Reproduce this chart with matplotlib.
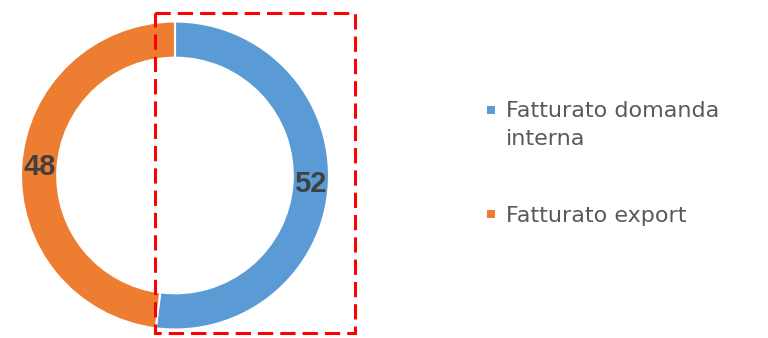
import matplotlib
matplotlib.use("Agg")
import matplotlib.pyplot as plt
from matplotlib.patches import Rectangle
import numpy as np

categories = ["Fatturato domanda\ninterna", "Fatturato export"]
values = [52, 48]
colors = ["#5B9BD5", "#ED7D31"]

W, H = 768, 338
fig = plt.figure(figsize=(W / 100, H / 100), dpi=100)

# donut axes: outer circle spans x 21..329, y 21..329 (pixels)
cx, cy, R = 175, 175.5, 154
pie_ax = fig.add_axes([(cx - R) / W, 1 - (cy + R) / H, 2 * R / W, 2 * R / H])
ring = 0.235
wedges, _ = pie_ax.pie(values, colors=colors, startangle=90, counterclock=False,
                       radius=1.0,
                       wedgeprops=dict(width=ring, edgecolor="white", linewidth=1.5))
pie_ax.set_xlim(-1, 1)
pie_ax.set_ylim(-1, 1)
pie_ax.set_aspect("equal")
pie_ax.axis("off")
for w in wedges:
    w.set_clip_on(False)

total = sum(values)
start = 90.0
rmid = 1 - ring / 2
for v in values:
    span = 360.0 * v / total
    mid = np.deg2rad(start - span / 2)
    pie_ax.text(rmid * np.cos(mid), rmid * np.sin(mid), f"{v}", ha="center", va="center",
                fontsize=21, fontweight="bold", color="#404040", family="Liberation Sans")
    start -= span

# overlay axes in pixel coordinates
ov = fig.add_axes([0, 0, 1, 1])
ov.set_xlim(0, W)
ov.set_ylim(H, 0)
ov.axis("off")
ov.patch.set_alpha(0)

ov.add_patch(Rectangle((154.5, 12.5), 200, 320, fill=False, edgecolor="#FF0000",
                       linewidth=2.2, linestyle=(0, (5, 2.3))))

# legend
leg_y = [110, 214.5]
for lab, col, y in zip(categories, colors, leg_y):
    ov.add_patch(Rectangle((487, y - 4.5), 8, 8, facecolor=col, edgecolor="none"))
    ov.text(506, y - 9, lab, ha="left", va="top", fontsize=16, color="#595959",
            family="DejaVu Sans", linespacing=1.5)

fig.savefig("out.png", dpi=100)
